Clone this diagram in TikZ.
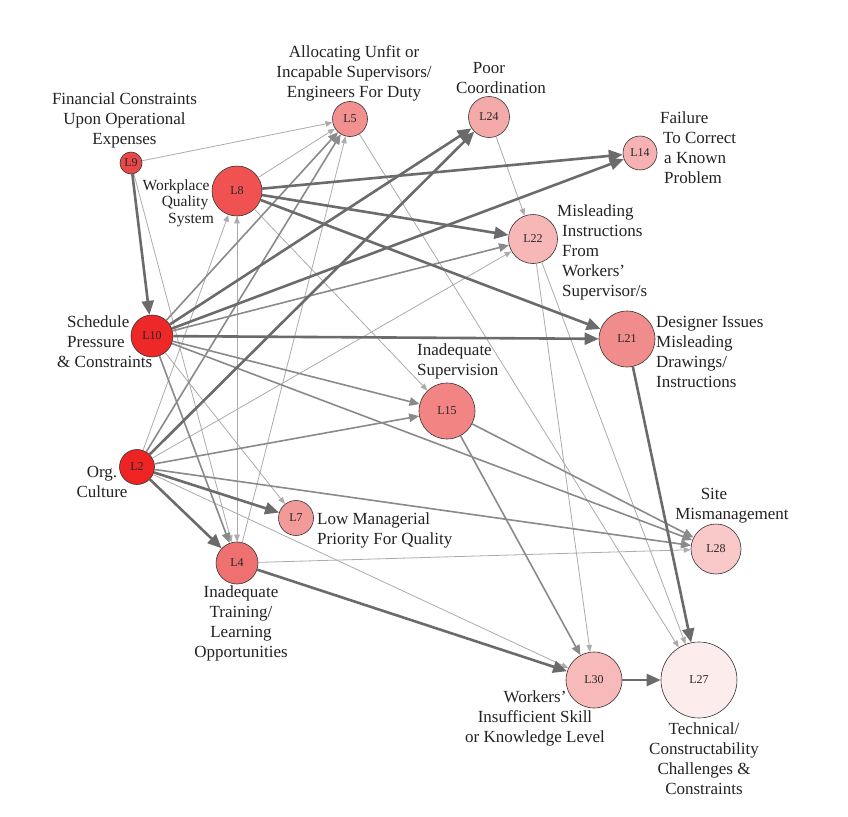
\documentclass[tikz,border=0pt]{standalone}
\usepackage{fontspec}
\setmainfont{Liberation Serif}
\usetikzlibrary{arrows.meta}
\definecolor{cL2}{HTML}{EE2424}
\definecolor{cL10}{HTML}{EE2828}
\definecolor{cL9}{HTML}{E84848}
\definecolor{cL8}{HTML}{F05252}
\definecolor{cL4}{HTML}{EE7070}
\definecolor{cL5}{HTML}{F29090}
\definecolor{cL7}{HTML}{F29A9A}
\definecolor{cL15}{HTML}{F28484}
\definecolor{cL21}{HTML}{F08C8C}
\definecolor{cL24}{HTML}{F5AAAA}
\definecolor{cL14}{HTML}{F6B2B2}
\definecolor{cL22}{HTML}{F7B7B7}
\definecolor{cL30}{HTML}{F7B9B9}
\definecolor{cL28}{HTML}{F9C8C8}
\definecolor{cL27}{HTML}{FCECEC}
\definecolor{ekA}{HTML}{6B6B6B}
\definecolor{ekB}{HTML}{8A8A8A}
\definecolor{ekC}{HTML}{ABABAB}
\definecolor{txt}{HTML}{222222}
\begin{document}
\begin{tikzpicture}[x=1pt,y=-1pt,
  vtx/.style={circle, draw=black!80, line width=0.6pt, inner sep=0pt, text=black!85,
    font=\fontsize{12}{12}\selectfont},
  lab/.style={font=\fontsize{17}{20}\selectfont, align=center, inner sep=0pt, text=txt},
  ethick/.style={draw=ekA, line width=2.6pt, -{Triangle[length=14pt,width=12pt]}},
  emed/.style={draw=ekB, line width=1.6pt, -{Triangle[length=10pt,width=8.5pt]}},
  ethin/.style={draw=ekC, line width=0.8pt, -{Triangle[length=7pt,width=5.5pt]}}
]
\path[use as bounding box] (0,0) rectangle (848,816);

% vertices
\node[vtx, fill=cL9,  minimum size=22pt] (L9)  at (131,163) {L9};
\node[vtx, fill=cL8,  minimum size=50pt] (L8)  at (237,191) {L8};
\node[vtx, fill=cL5,  minimum size=35pt] (L5)  at (350,119) {L5};
\node[vtx, fill=cL24, minimum size=41pt] (L24) at (489,117) {L24};
\node[vtx, fill=cL14, minimum size=34pt] (L14) at (640,153) {L14};
\node[vtx, fill=cL22, minimum size=49pt] (L22) at (533,239) {L22};
\node[vtx, fill=cL10, minimum size=42pt] (L10) at (152,336) {L10};
\node[vtx, fill=cL21, minimum size=56pt] (L21) at (627,339) {L21};
\node[vtx, fill=cL15, minimum size=56pt] (L15) at (447,411) {L15};
\node[vtx, fill=cL2,  minimum size=35pt] (L2)  at (137,467) {L2};
\node[vtx, fill=cL7,  minimum size=35pt] (L7)  at (296,518) {L7};
\node[vtx, fill=cL4,  minimum size=42pt] (L4)  at (237,563) {L4};
\node[vtx, fill=cL28, minimum size=50pt] (L28) at (716,549) {L28};
\node[vtx, fill=cL30, minimum size=56pt] (L30) at (594,680) {L30};
\node[vtx, fill=cL27, minimum size=76pt] (L27) at (699,680) {L27};

% labels
\node[lab] (tL9) at (124.5,120) {Financial Constraints\\Upon Operational\\Expenses};
\node[lab] (tL5) at (354,73) {Allocating Unfit or\\Incapable Supervisors/\\Engineers For Duty};
\node[lab] (tL24) at (501,78) {\hspace*{-24pt}Poor\\Coordination};
\node[lab, align=left, anchor=west] (tL14) at (660,148) {Failure\\\hspace*{3pt}To Correct\\\hspace*{4pt}a Known\\\hspace*{4pt}Problem};
\node[lab, font=\fontsize{15.5}{16.5}\selectfont] (tL8) at (176,203) {Workplace\\\hspace*{18pt}Quality\\\hspace*{30pt}System};
\node[lab, align=left, anchor=west] (tL22) at (557,252) {Misleading\\\hspace*{5pt}Instructions\\\hspace*{5pt}From\\\hspace*{5pt}Workers'\\\hspace*{5pt}Supervisor/s};
\node[lab, align=left, anchor=west] (tL10) at (57,342) {\hspace*{10pt}Schedule\\\hspace*{10pt}Pressure\\\& Constraints};
\node[lab, align=left, anchor=west] (tL21) at (656,352) {Designer Issues\\Misleading\\Drawings/\\Instructions};
\node[lab, align=left, anchor=west] (tL15) at (417,361) {Inadequate\\Supervision};
\node[lab] (tL2) at (102,482) {Org.\\Culture};
\node[lab, align=left, anchor=west] (tL7) at (317,530) {Low Managerial\\Priority For Quality};
\node[lab] (tL4) at (241,623) {Inadequate\\Training/\\Learning\\Opportunities};
\node[lab] (tL28) at (732,506) {\hspace*{-36pt}Site\\Mismanagement};
\node[lab] (tL30) at (535,718) {Workers'\\Insufficient Skill\\or Knowledge Level};
\node[lab] (tL27) at (704,759) {Technical/\\Constructability\\Challenges \&\\Constraints};

% thin edges
\draw[ethin] (L9) -- (L5);
\draw[ethin] (L9) -- (L4);
\draw[ethin] (L8) -- (L5);
\draw[ethin] (L8) -- (L15);
\draw[ethin] (L8) -- (L4);
\draw[ethin] (L4) -- (L8);
\draw[ethin] (L2) -- (L8);
\draw[ethin] (L2) -- (L22);
\draw[ethin] (L2) -- (L30);
\draw[ethin] (L10) -- (L7);
\draw[ethin] (L4) -- (L28);
\draw[ethin] (L4) -- (L5);
\draw[ethin] (L24) -- (L22);
\draw[ethin] (L22) -- (L30);
\draw[ethin] (L22) -- (L27);
\draw[ethin] (L5) -- (L27);

% medium edges
\draw[emed] (L10) -- (L22);
\draw[emed] (L10) -- (L15);
\draw[emed] (L10) -- (L28);
\draw[emed] (L10) -- (L5);
\draw[emed] (L10) -- (L4);
\draw[emed] (L2) -- (L15);
\draw[emed] (L2) -- (L28);
\draw[emed] (L2) -- (L5);
\draw[emed] (L15) -- (L28);
\draw[emed] (L15) -- (L30);

% thick edges
\draw[ethick] (L9) -- (L10);
\draw[ethick] (L8) -- (L14);
\draw[ethick] (L8) -- (L22);
\draw[ethick] (L8) -- (L21);
\draw[ethick] (L10) -- (L14);
\draw[ethick] (L10) -- (L24);
\draw[ethick] (L10) -- (L21);
\draw[ethick] (L2) -- (L24);
\draw[ethick] (L2) -- (L7);
\draw[ethick] (L2) -- (L4);
\draw[ethick] (L4) -- (L30);
\draw[ethick] (L21) -- (L27);
\draw[ethick] (L30) -- (L27);
\end{tikzpicture}
\end{document}
